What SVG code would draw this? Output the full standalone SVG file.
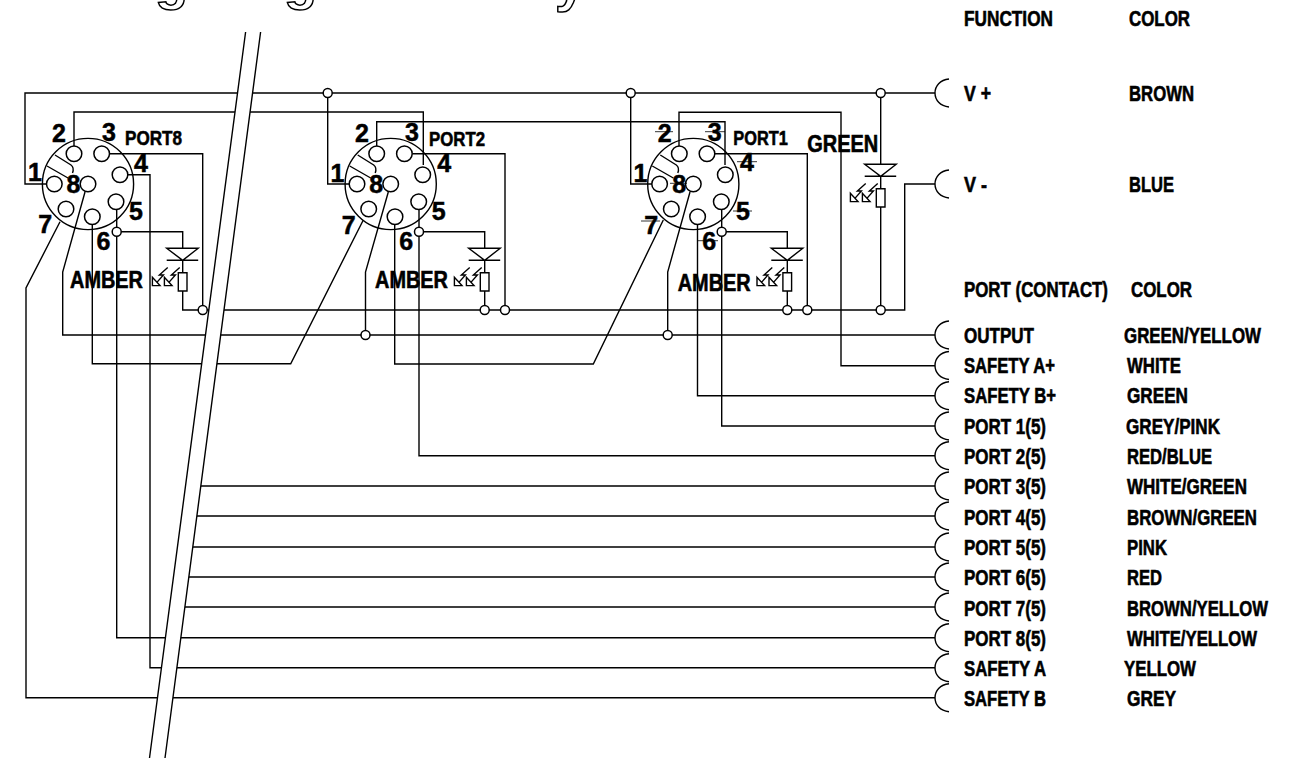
<svg xmlns="http://www.w3.org/2000/svg" xmlns:xlink="http://www.w3.org/1999/xlink" width="1303" height="761" viewBox="0 0 1303 761">
<style>
.w{fill:none;stroke:#000;stroke-width:1.4;stroke-linejoin:miter}
.j{fill:#fff;stroke:#000;stroke-width:1.5}
.thin{fill:none;stroke:#000;stroke-width:.8}
text{font-family:"Liberation Sans",Arial,sans-serif;font-weight:700;fill:#000}
.t{font-size:21.5px;stroke:#000;stroke-width:.6}
.n{font-size:25px;stroke:#000;stroke-width:.5}
.p{font-size:21px;stroke:#000;stroke-width:.6}
.l{font-size:23.500px;stroke:#000;stroke-width:.6}
.frag{font-size:54px;fill:#fff;stroke:#000;stroke-width:1.5}
</style>
<defs>
<g id="arc"><path class="w" d="M949 -14C940 -13 935 -7 935 0C935 7 940 13 949 14"/></g>
<g id="conn">
<circle class="w" r="45.6"/>
<circle class="j" cx="-33.7" cy="0" r="7.8"/>
<circle class="j" cx="-14" cy="-30.3" r="7.8"/>
<circle class="j" cx="13.7" cy="-30.3" r="7.8"/>
<circle class="j" cx="32" cy="-9.3" r="7.8"/>
<circle class="j" cx="28" cy="17.7" r="7.8"/>
<circle class="j" cx="4.3" cy="32.7" r="7.8"/>
<circle class="j" cx="-22" cy="25" r="7.8"/>
<circle class="j" cx="0" cy="0" r="7.8"/>
<path class="w" d="M-33 -29L-17 -19C-14.500 -17 -14 -15 -15.500 -11M-41 -18L-20 -6"/>
</g>
<g id="led">
<path class="w" d="M-16 0H15.500L0 12ZM-16 12H15.500M0 12V24.400M-4.400 24.400H4.300V42.700H-4.400Z"/>
<path class="w" d="M-30.300 37.300H-22.700L-30.300 29ZM-15 19.300L-23.300 26.700H-19.300L-26 34.300"/>
<path class="w" d="M-18.300 37.300H-10.700L-18.300 29ZM-3 19.300L-11.300 26.700H-7.300L-14 34.300"/>
</g>
</defs>

<text class="frag" x="155" y="-1">g</text>
<text class="frag" x="284" y="-1">g</text>
<text class="frag" x="555" y="1">y</text>

<g id="connectors">
<path class="w" d="M46 184H25V93H935"/>
<path class="w" d="M327.700 93V184H349"/>
<path class="w" d="M630.700 93V184H652"/>
<path class="w" d="M880.700 93V164"/>
<path class="w" d="M74 146V112H423.300V165"/>
<path class="w" d="M376.700 146V121.700H725V165"/>
<path class="w" d="M679 146V112.300H841V365.700H935"/>
<path class="w" d="M128 174.700H150V667.700H935"/>
<path class="w" d="M109.700 153.700H202.700V310"/>
<path class="w" d="M412.400 153.700H505V310"/>
<path class="w" d="M715 153.700H807.300V310"/>
<path class="w" d="M116.700 209V637.700H935"/>
<path class="w" d="M419 209V455.700H935"/>
<path class="w" d="M721.700 209V426H935"/>
<path class="w" d="M116.700 231.700H182.700V248"/>
<path class="w" d="M419 231.700H484.700V248"/>
<path class="w" d="M721.700 231.700H787.300V248"/>
<path class="w" d="M182.700 291V310H904.700V184H935"/>
<path class="w" d="M484.700 291V310M787.300 291V310M880.700 207V310"/>
<path class="w" d="M92.300 224V363.700H290.700L363.300 220"/>
<path class="w" d="M394.700 224V364H593.300L663.300 220"/>
<path class="w" d="M697.500 224V395.700H935"/>
<path class="w" d="M60 221.700L26 288V697.700H935"/>
<path class="w" d="M85 192L62.700 272V335H935"/>
<path class="w" d="M388.300 192L365.500 272V335"/>
<path class="w" d="M690 192L667.700 272V335"/>
<path class="w" d="M200.600 486H935M196.600 516H935M192.500 547H935M188.500 577H935M184.500 607H935"/>
<polygon points="245.600,32 260.600,32 165,758 149.500,758" fill="#fff"/>
<path class="w" d="M245.600 32L149.500 758M260.600 32L165 758"/>
<circle class="j" cx="327.700" cy="93" r="4.500"/>
<circle class="j" cx="630.700" cy="93" r="4.500"/>
<circle class="j" cx="880.700" cy="93" r="4.500"/>
<circle class="j" cx="116.700" cy="231.700" r="4.500"/>
<circle class="j" cx="419" cy="231.700" r="4.500"/>
<circle class="j" cx="721.700" cy="231.700" r="4.500"/>
<circle class="j" cx="202.700" cy="310" r="4.500"/>
<circle class="j" cx="484.700" cy="310" r="4.500"/>
<circle class="j" cx="505" cy="310" r="4.500"/>
<circle class="j" cx="787.300" cy="310" r="4.500"/>
<circle class="j" cx="807.300" cy="310" r="4.500"/>
<circle class="j" cx="880.700" cy="310" r="4.500"/>
<circle class="j" cx="365.500" cy="335" r="4.500"/>
<circle class="j" cx="667.700" cy="335" r="4.500"/>
</g>

<g id="port8">
<use xlink:href="#conn" href="#conn" x="88" y="184"/>
<use xlink:href="#led" href="#led" x="182.700" y="248.300"/>
<text class="n" x="52" y="142">2</text><text class="n" x="102" y="141">3</text>
<text class="p" x="125" y="145" textLength="57" lengthAdjust="spacingAndGlyphs">PORT8</text>
<text class="n" x="134" y="172">4</text><text class="n" x="28" y="181">1</text>
<text class="n" x="66.500" y="193">8</text><text class="n" x="129" y="220">5</text>
<text class="n" x="96.500" y="250">6</text><text class="n" x="38.300" y="233">7</text>
<text class="l" x="70" y="288.300" textLength="73" lengthAdjust="spacingAndGlyphs">AMBER</text>
</g>

<g id="port2">
<use xlink:href="#conn" href="#conn" x="390.700" y="184"/>
<use xlink:href="#led" href="#led" x="484.700" y="248.300"/>
<text class="n" x="355" y="142">2</text><text class="n" x="405" y="141">3</text>
<text class="p" x="429" y="145.500" textLength="56" lengthAdjust="spacingAndGlyphs">PORT2</text>
<text class="n" x="437.300" y="172">4</text><text class="n" x="330.500" y="181.500">1</text>
<text class="n" x="369.300" y="193">8</text><text class="n" x="431.700" y="220">5</text>
<text class="n" x="399.300" y="250">6</text><text class="n" x="341.700" y="234">7</text>
<text class="l" x="375" y="288.300" textLength="73" lengthAdjust="spacingAndGlyphs">AMBER</text>
</g>

<g id="port1">
<use xlink:href="#conn" href="#conn" x="693.300" y="184"/>
<use xlink:href="#led" href="#led" x="787.300" y="248.300"/>
<text class="n" x="657.700" y="142">2</text><text class="n" x="707.700" y="141">3</text>
<text class="p" x="733.300" y="144.500" textLength="54.500" lengthAdjust="spacingAndGlyphs">PORT1</text>
<text class="n" x="740" y="171">4</text><text class="n" x="633.500" y="181.500">1</text>
<text class="n" x="672.300" y="193">8</text><text class="n" x="736" y="220">5</text>
<text class="n" x="702.300" y="250">6</text><text class="n" x="644.300" y="234">7</text>
<text class="l" x="677.700" y="290.500" textLength="73" lengthAdjust="spacingAndGlyphs">AMBER</text>
<path class="thin" d="M655 131.700H673M705 131.700H725M737 161.700H757M641 221H660M733 211H752M698 240.700H718M670 183.300H687"/>
</g>

<g id="led-green">
<use xlink:href="#led" href="#led" x="880.700" y="164.300"/>
<text class="l" x="807.300" y="151.700" textLength="71" lengthAdjust="spacingAndGlyphs">GREEN</text>
</g>

<g id="headings">
<text class="t" x="964" y="26" textLength="89" lengthAdjust="spacingAndGlyphs">FUNCTION</text>
<text class="t" x="1129" y="26" textLength="61" lengthAdjust="spacingAndGlyphs">COLOR</text>
<text class="t" x="964" y="297" textLength="144" lengthAdjust="spacingAndGlyphs">PORT (CONTACT)</text>
<text class="t" x="1131" y="297" textLength="61" lengthAdjust="spacingAndGlyphs">COLOR</text>
</g>

<g id="t-vplus"><use xlink:href="#arc" href="#arc" y="93"/><text class="t" x="964" y="101" textLength="27" lengthAdjust="spacingAndGlyphs">V +</text><text class="t" x="1129" y="101" textLength="65" lengthAdjust="spacingAndGlyphs">BROWN</text></g>
<g id="t-vminus"><use xlink:href="#arc" href="#arc" y="184"/><text class="t" x="964" y="192" textLength="23" lengthAdjust="spacingAndGlyphs">V -</text><text class="t" x="1129" y="192" textLength="45" lengthAdjust="spacingAndGlyphs">BLUE</text></g>
<g id="t-output"><use xlink:href="#arc" href="#arc" y="335"/><text class="t" x="964" y="343" textLength="70" lengthAdjust="spacingAndGlyphs">OUTPUT</text><text class="t" x="1124" y="343" textLength="137" lengthAdjust="spacingAndGlyphs">GREEN/YELLOW</text></g>
<g id="t-safety-a-plus"><use xlink:href="#arc" href="#arc" y="365.500"/><text class="t" x="964" y="373" textLength="91" lengthAdjust="spacingAndGlyphs">SAFETY A+</text><text class="t" x="1127" y="373" textLength="54" lengthAdjust="spacingAndGlyphs">WHITE</text></g>
<g id="t-safety-b-plus"><use xlink:href="#arc" href="#arc" y="395.700"/><text class="t" x="964" y="403" textLength="92" lengthAdjust="spacingAndGlyphs">SAFETY B+</text><text class="t" x="1127" y="403" textLength="61" lengthAdjust="spacingAndGlyphs">GREEN</text></g>
<g id="t-port1"><use xlink:href="#arc" href="#arc" y="426"/><text class="t" x="964" y="434" textLength="82" lengthAdjust="spacingAndGlyphs">PORT 1(5)</text><text class="t" x="1126" y="434" textLength="94" lengthAdjust="spacingAndGlyphs">GREY/PINK</text></g>
<g id="t-port2"><use xlink:href="#arc" href="#arc" y="455.700"/><text class="t" x="964" y="464" textLength="82" lengthAdjust="spacingAndGlyphs">PORT 2(5)</text><text class="t" x="1127" y="464" textLength="85" lengthAdjust="spacingAndGlyphs">RED/BLUE</text></g>
<g id="t-port3"><use xlink:href="#arc" href="#arc" y="486"/><text class="t" x="964" y="494" textLength="82" lengthAdjust="spacingAndGlyphs">PORT 3(5)</text><text class="t" x="1127" y="494" textLength="120" lengthAdjust="spacingAndGlyphs">WHITE/GREEN</text></g>
<g id="t-port4"><use xlink:href="#arc" href="#arc" y="516"/><text class="t" x="964" y="525" textLength="82" lengthAdjust="spacingAndGlyphs">PORT 4(5)</text><text class="t" x="1127" y="525" textLength="130" lengthAdjust="spacingAndGlyphs">BROWN/GREEN</text></g>
<g id="t-port5"><use xlink:href="#arc" href="#arc" y="547"/><text class="t" x="964" y="555" textLength="82" lengthAdjust="spacingAndGlyphs">PORT 5(5)</text><text class="t" x="1127" y="555" textLength="40" lengthAdjust="spacingAndGlyphs">PINK</text></g>
<g id="t-port6"><use xlink:href="#arc" href="#arc" y="577"/><text class="t" x="964" y="585" textLength="82" lengthAdjust="spacingAndGlyphs">PORT 6(5)</text><text class="t" x="1127" y="585" textLength="35" lengthAdjust="spacingAndGlyphs">RED</text></g>
<g id="t-port7"><use xlink:href="#arc" href="#arc" y="607"/><text class="t" x="964" y="616" textLength="82" lengthAdjust="spacingAndGlyphs">PORT 7(5)</text><text class="t" x="1127" y="616" textLength="141" lengthAdjust="spacingAndGlyphs">BROWN/YELLOW</text></g>
<g id="t-port8"><use xlink:href="#arc" href="#arc" y="637.700"/><text class="t" x="964" y="646" textLength="82" lengthAdjust="spacingAndGlyphs">PORT 8(5)</text><text class="t" x="1127" y="646" textLength="130" lengthAdjust="spacingAndGlyphs">WHITE/YELLOW</text></g>
<g id="t-safety-a"><use xlink:href="#arc" href="#arc" y="667.700"/><text class="t" x="964" y="676" textLength="82" lengthAdjust="spacingAndGlyphs">SAFETY A</text><text class="t" x="1124" y="676" textLength="72" lengthAdjust="spacingAndGlyphs">YELLOW</text></g>
<g id="t-safety-b"><use xlink:href="#arc" href="#arc" y="697.700"/><text class="t" x="964" y="706" textLength="82" lengthAdjust="spacingAndGlyphs">SAFETY B</text><text class="t" x="1127" y="706" textLength="49" lengthAdjust="spacingAndGlyphs">GREY</text></g>
</svg>
